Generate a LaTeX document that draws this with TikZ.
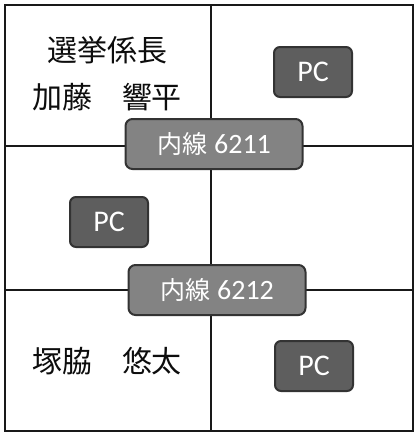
\documentclass[tikz,border=0pt]{standalone}
\usepackage{fontspec}
\newfontfamily\jp{Noto Sans CJK JP}
\newfontfamily\lat{Carlito}
\definecolor{pcfill}{HTML}{5E5E5E}
\definecolor{extfill}{HTML}{838383}
\definecolor{edge}{HTML}{333333}
\begin{document}
\begin{tikzpicture}[x=1pt,y=-1pt,
  gridline/.style={line width=1.7pt, draw=black!90},
  pcbox/.style={draw=edge, line width=2pt, fill=pcfill, rounded corners=6pt,
    minimum width=78pt, minimum height=50pt, text=white, font=\lat\fontsize{30}{30}\selectfont, inner sep=0pt},
  extbox/.style={draw=edge, line width=2pt, fill=extfill, rounded corners=7pt,
    minimum width=177pt, minimum height=50pt, text=white, inner sep=0pt},
  persontext/.style={font=\jp\fontsize{30}{30}\selectfont, text=black!95, inner sep=0pt}]
\useasboundingbox (0,0) rectangle (418,434);
\fill[white] (0,0) rectangle (418,434);
\draw[gridline] (5,5) rectangle (413,431);
\draw[gridline] (211,5) -- (211,431);
\draw[gridline] (5,146) -- (413,146);
\draw[gridline] (5,290) -- (413,290);
\node[persontext] (title) at (107,50) {選挙係長};
\node[persontext] (kato) at (107,97) {加藤　響平};
\node[persontext] (tsuka) at (107,361) {塚脇　悠太};
\node[pcbox] (pc1) at (313,72) {PC};
\node[pcbox] (pc2) at (109,222) {PC};
\node[pcbox] (pc3) at (314,366) {PC};
\node[extbox] (ext1) at (214,144) {{\jp\fontsize{25}{25}\selectfont 内線}\hspace{7pt}{\lat\fontsize{28}{28}\selectfont 6211}};
\node[extbox] (ext2) at (217,290) {{\jp\fontsize{25}{25}\selectfont 内線}\hspace{7pt}{\lat\fontsize{28}{28}\selectfont 6212}};
\end{tikzpicture}
\end{document}
